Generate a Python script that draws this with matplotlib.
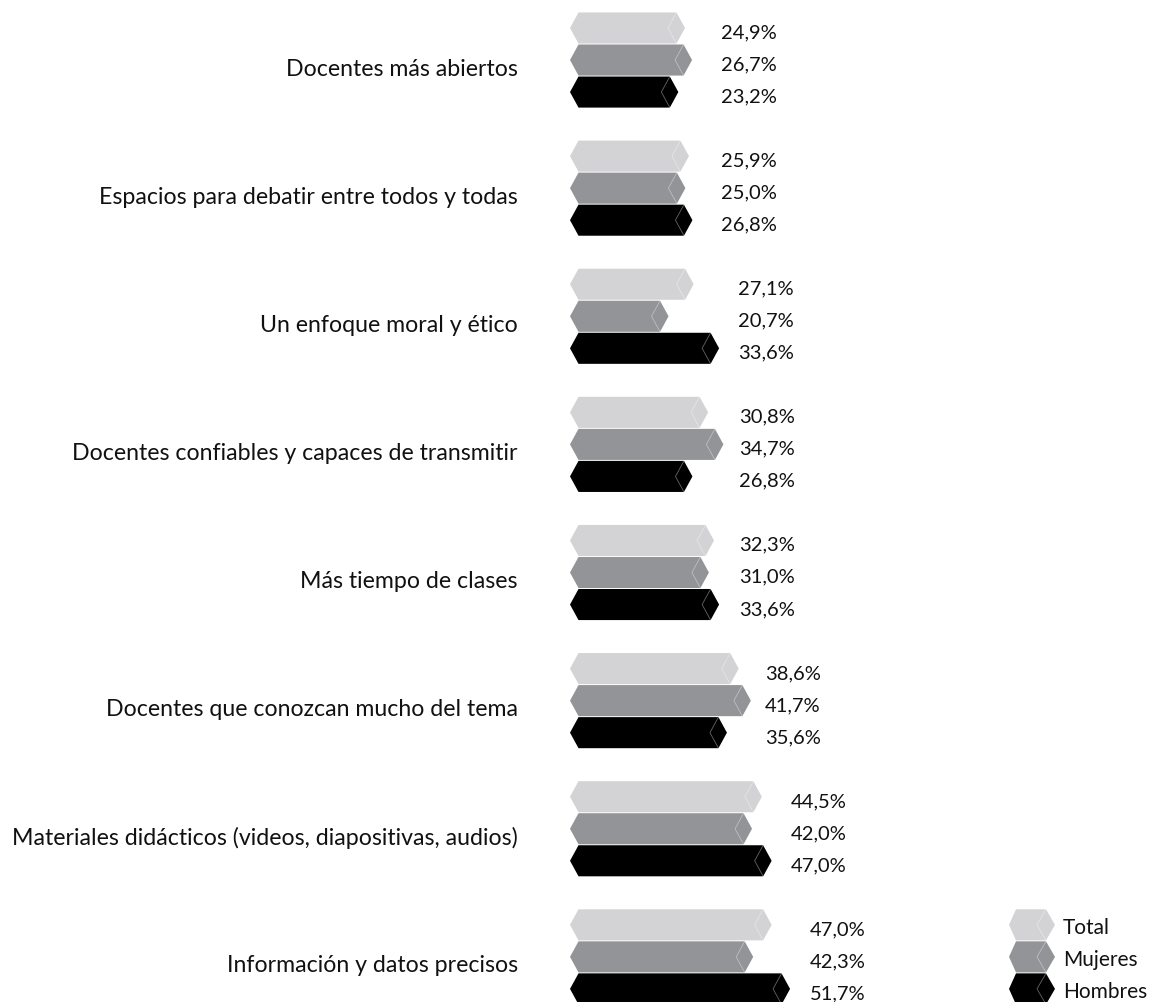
import matplotlib
matplotlib.use("Agg")
import matplotlib.pyplot as plt
from matplotlib.patches import Polygon

categories = [
    "Docentes más abiertos",
    "Espacios para debatir entre todos y todas",
    "Un enfoque moral y ético",
    "Docentes confiables y capaces de transmitir",
    "Más tiempo de clases",
    "Docentes que conozcan mucho del tema",
    "Materiales didácticos (videos, diapositivas, audios)",
    "Información y datos precisos",
]
series_names = ["Total", "Mujeres", "Hombres"]
total = [24.9, 25.9, 27.1, 30.8, 32.3, 38.6, 44.5, 47.0]
mujeres = [26.7, 25.0, 20.7, 34.7, 31.0, 41.7, 42.0, 42.3]
hombres = [23.2, 26.8, 33.6, 26.8, 33.6, 35.6, 47.0, 51.7]

# ---- layout / style (not data) ----
W, H, DPI = 1150, 1003, 100
colors = ["#D3D3D5", "#939497", "#000000"]
PX0 = 587.4      # pixel of value 0
PPV = 3.92       # pixels per percent
UNIT = 32.03     # pixels per bar slot
Y0 = 29.0        # pixel centre of first bar
label_px = [721, 721, 738, 739, 739, 765, 791, 810]
FONT = ["Lato", "DejaVu Sans"]

def px2x(p):
    return (p - PX0) / PPV

fig = plt.figure(figsize=(W / DPI, H / DPI), dpi=DPI)
ax = fig.add_axes([0, 0, 1, 1])
ax.set_xlim(px2x(0), px2x(W))
ax.set_ylim((H - Y0) / UNIT, -Y0 / UNIT)
ax.axis("off")

HH = 0.485                 # half bar height (units)
TIP = 8.5 / PPV            # point depth in %
LEFT_TIP = px2x(570)
LEFT_CORNER = px2x(578.5)


def hex_bar(ax, x0tip, x0c, x1c, x1tip, yc, color):
    pts = [(x0tip, yc), (x0c, yc - HH), (x1c, yc - HH), (x1tip, yc),
           (x1c, yc + HH), (x0c, yc + HH)]
    ax.add_patch(Polygon(pts, closed=True, facecolor=color, edgecolor="none", zorder=2))
    chev_x = x1c - (x1tip - x1c)
    ax.plot([x1c, chev_x, x1c], [yc - HH, yc, yc + HH], color="white",
            alpha=0.4, lw=0.6, zorder=3, solid_joinstyle="miter")


all_series = [total, mujeres, hombres]
for g, cat in enumerate(categories):
    for i, vals in enumerate(all_series):
        v = vals[g]
        yc = 4 * g + i
        hex_bar(ax, LEFT_TIP, LEFT_CORNER, v - TIP, v, yc, colors[i])
        ax.text(px2x(label_px[g]), yc + 0.12, f"{v:.1f}".replace(".", ",") + "%",
                ha="left", va="center", fontsize=14.5, family=FONT, color="#111111")
    ax.text(px2x(518), 4 * g + 1 + 0.25, cat, ha="right", va="center",
            fontsize=16.7, family=FONT, color="#111111")

# legend, aligned with last group rows
for i, name in enumerate(series_names):
    yc = 4 * (len(categories) - 1) + i
    hex_bar(ax, px2x(1009), px2x(1016), px2x(1046), px2x(1055), yc, colors[i])
    ax.text(px2x(1063), yc + 0.08, name, ha="left", va="center",
            fontsize=15, family=FONT, color="#111111")

fig.savefig("out.png", dpi=DPI)
